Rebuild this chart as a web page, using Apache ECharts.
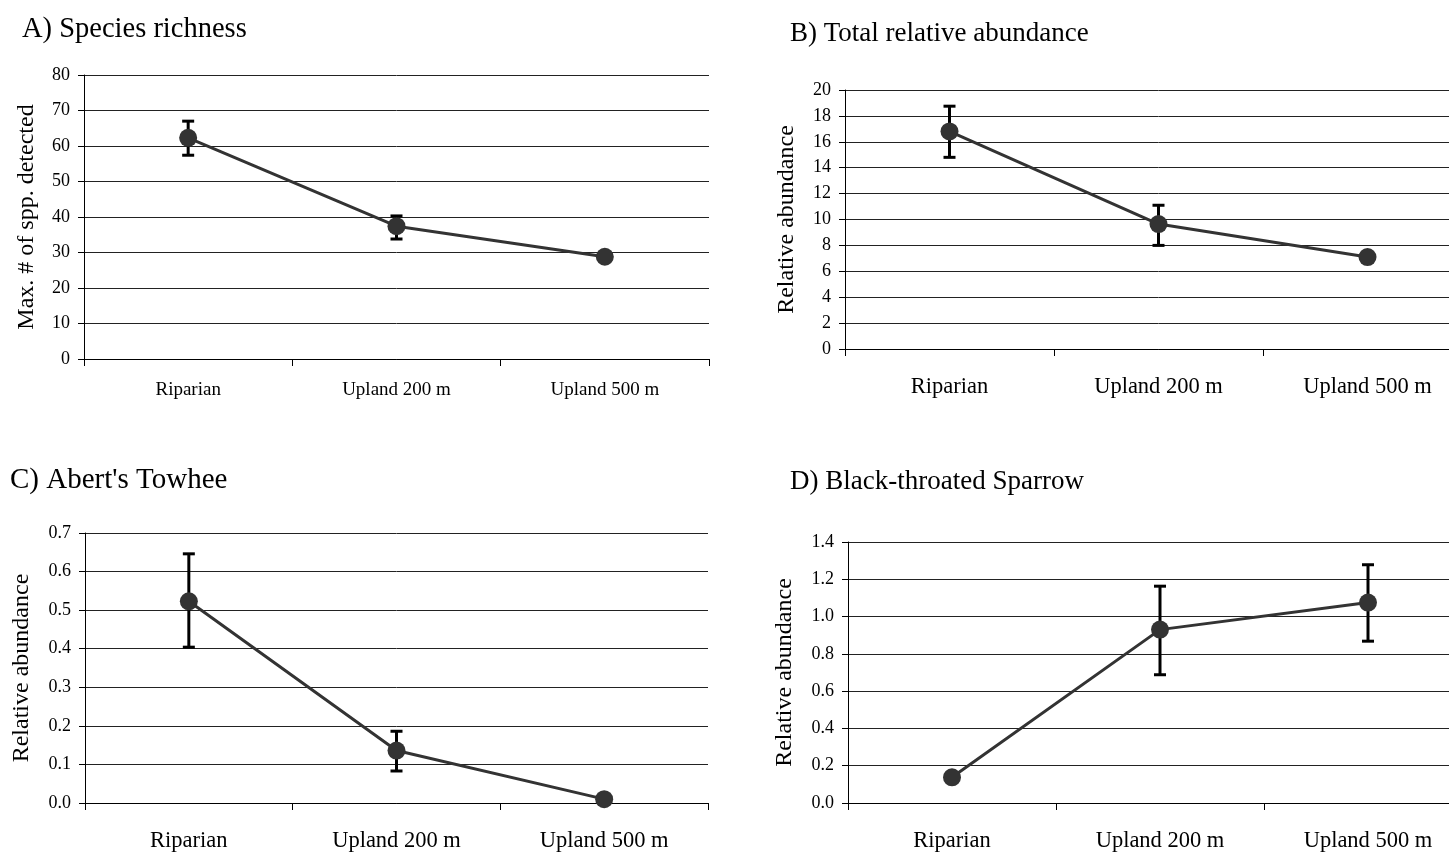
<!DOCTYPE html>
<html>
<head>
<meta charset="utf-8">
<script src="https://cdn.jsdelivr.net/npm/echarts@6/dist/echarts.min.js"></script>
<style>
html,body{margin:0;padding:0;background:#fff;overflow:hidden;width:1449px;height:853px;}
#chart{width:1480px;height:853px;}
</style>
</head>
<body>
<div id="chart"></div>
<script>
// ---- data ----
const categories = ['Riparian', 'Upland 200 m', 'Upland 500 m'];

const richnessMean  = [62.3, 37.4, 28.8];
const richnessLow   = [57.4, 33.8, 28.3];
const richnessHigh  = [67.0, 40.3, 29.3];

const totalMean     = [16.8, 9.65, 7.1];
const totalLow      = [14.8, 8.0, 6.9];
const totalHigh     = [18.75, 11.1, 7.3];

const towheeMean    = [0.523, 0.136, 0.010];
const towheeLow     = [0.404, 0.083, 0.005];
const towheeHigh    = [0.646, 0.186, 0.015];

const sparrowMean   = [0.138, 0.930, 1.075];
const sparrowLow    = [0.128, 0.688, 0.868];
const sparrowHigh   = [0.148, 1.163, 1.278];

const panelTitles = ['A) Species richness', 'B) Total relative abundance', "C) Abert's Towhee", 'D) Black-throated Sparrow'];
const yTitles = ['Max. # of spp. detected', 'Relative abundance', 'Relative abundance', 'Relative abundance'];
const yAxes = [
  {min: 0, max: 80, interval: 10, digits: 0},
  {min: 0, max: 20, interval: 2, digits: 0},
  {min: 0, max: 0.7, interval: 0.1, digits: 1},
  {min: 0, max: 1.4, interval: 0.2, digits: 1}
];

// ---- layout ----
const FONT = '"Liberation Serif", "Times New Roman", serif';
const grids = [
  {left: 84,  top: 75,  width: 625, height: 284},
  {left: 845, top: 90,  width: 627, height: 259},
  {left: 85,  top: 533, width: 623, height: 270},
  {left: 848, top: 542, width: 624, height: 261}
];
const titlePos = [
  {left: 22, top: 15, size: 28.5},
  {left: 790, top: 20, size: 27},
  {left: 10, top: 466, size: 29},
  {left: 790, top: 468, size: 27}
];
const nameGaps = [45, 46, 51, 51];
const xLabelSize = [19, 22.5, 22.5, 22.5];
const xLabelMargin = [22, 27, 27, 27];

const means = [richnessMean, totalMean, towheeMean, sparrowMean];
const lows = [richnessLow, totalLow, towheeLow, sparrowLow];
const highs = [richnessHigh, totalHigh, towheeHigh, sparrowHigh];

function errRender(params, api) {
  const x = api.value(0);
  const lo = api.coord([x, api.value(1)]);
  const hi = api.coord([x, api.value(2)]);
  const hw = 6;
  const st = {stroke: '#000', lineWidth: 3};
  return {type: 'group', children: [
    {type: 'line', shape: {x1: hi[0], y1: hi[1], x2: lo[0], y2: lo[1]}, style: st},
    {type: 'line', shape: {x1: hi[0] - hw, y1: hi[1], x2: hi[0] + hw, y2: hi[1]}, style: st},
    {type: 'line', shape: {x1: lo[0] - hw, y1: lo[1], x2: lo[0] + hw, y2: lo[1]}, style: st}
  ]};
}

const option = {
  backgroundColor: '#fff',
  animation: false,
  title: panelTitles.map((t, i) => ({
    text: t, left: titlePos[i].left, top: titlePos[i].top, padding: 0,
    textStyle: {fontFamily: FONT, fontSize: titlePos[i].size, fontWeight: 'normal', color: '#000'}
  })),
  grid: grids.map(g => Object.assign({containLabel: false}, g)),
  xAxis: grids.map((g, i) => ({
    type: 'category', gridIndex: i, data: categories, boundaryGap: true,
    axisLine: {show: true, lineStyle: {color: '#000', width: 1}},
    axisTick: {show: true, length: 7, alignWithLabel: false, lineStyle: {color: '#000'}},
    axisLabel: {fontFamily: FONT, fontSize: xLabelSize[i], color: '#000', margin: xLabelMargin[i]},
    splitLine: {show: false}
  })),
  yAxis: grids.map((g, i) => ({
    type: 'value', gridIndex: i,
    min: yAxes[i].min, max: yAxes[i].max, interval: yAxes[i].interval,
    name: yTitles[i], nameLocation: 'middle', nameRotate: 90, nameGap: nameGaps[i],
    nameTextStyle: {fontFamily: FONT, fontSize: 24, color: '#000'},
    axisLine: {show: true, lineStyle: {color: '#000', width: 1}},
    axisTick: {show: true, length: 6, lineStyle: {color: '#000'}},
    axisLabel: {fontFamily: FONT, fontSize: 18, color: '#000', margin: 14,
      formatter: v => v.toFixed(yAxes[i].digits)},
    splitLine: {show: true, lineStyle: {color: '#222', width: 1}}
  })),
  series: [].concat(
    means.map((m, i) => ({
      type: 'custom', xAxisIndex: i, yAxisIndex: i, z: 2,
      renderItem: errRender,
      data: categories.map((c, k) => [k, lows[i][k], highs[i][k]])
    })),
    means.map((m, i) => ({
      type: 'line', xAxisIndex: i, yAxisIndex: i, z: 3,
      data: m,
      symbol: 'circle', symbolSize: 18,
      lineStyle: {color: '#333', width: 3},
      itemStyle: {color: '#333'}
    }))
  )
};

const chart = echarts.init(document.getElementById('chart'), null, {renderer: 'canvas'});
chart.setOption(option);
</script>
</body>
</html>
